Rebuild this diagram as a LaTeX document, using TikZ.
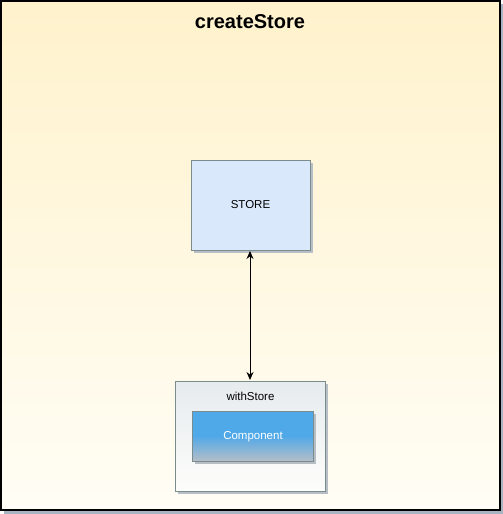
\documentclass[tikz,border=0pt]{standalone}
\usepackage{fontspec}
\setmainfont{Liberation Sans}
\usetikzlibrary{arrows.meta}
\definecolor{frameshadow}{HTML}{A9B4C2}
\definecolor{bgtop}{HTML}{FFF2CC}
\definecolor{bgbot}{HTML}{FFFDF5}
\definecolor{storefill}{HTML}{DAE8FC}
\definecolor{boxline}{HTML}{7B8C8C}
\definecolor{boxshadow}{HTML}{B8BEC6}
\definecolor{comptop}{HTML}{4FA8E8}
\definecolor{compbot}{HTML}{B4BEC8}
\definecolor{wtop}{HTML}{E6EBEE}
\definecolor{wbot}{HTML}{FDFDFB}
\tikzset{
  plainbox/.style={draw=boxline, line width=0.8pt, inner sep=0pt, outer sep=0pt},
  lbl/.style={font=\fontsize{11.5}{13}\selectfont, inner sep=0pt},
  link/.style={{Stealth[length=8pt,width=7pt]}-{Stealth[length=8pt,width=7pt]}, line width=1pt},
}
\begin{document}
\begin{tikzpicture}[x=1pt,y=-1pt]
\useasboundingbox (0,0) rectangle (503,514);
% outer frame shadow
\fill[frameshadow] (4,4) rectangle (503,514);
\shade[top color=bgtop, bottom color=bgbot] (1,1) rectangle (500,510);
\draw[black, line width=1.2pt] (1,1) rectangle (500,510);
\node[font=\bfseries\fontsize{20}{24}\selectfont, inner sep=0pt] (title) at (250,22) {createStore};
% STORE
\fill[boxshadow] (194,163) rectangle (313,253);
\draw[plainbox, fill=storefill] (191,160) rectangle (310,250);
\coordinate (storebot) at (250,251);
\node[lbl] (store) at (250.5,205) {STORE};
% withStore
\fill[boxshadow] (178,384) rectangle (328,494);
\shade[top color=wtop, bottom color=wbot] (175,381) rectangle (325,491);
\draw[plainbox] (175,381) rectangle (325,491);
\coordinate (wtopc) at (250,380);
\node[lbl] (with) at (250.5,396.5) {withStore};
% Component
\fill[boxshadow] (195,414) rectangle (316,464);
\fill[comptop] (192,411) rectangle (313,436);
\shade[top color=comptop, bottom color=compbot] (192,435.5) rectangle (313,461);
\draw[plainbox] (192,411) rectangle (313,461);
\node[lbl, text=white] (comp) at (253,436.5) {Component};
% arrow
\draw[link] (storebot) -- (wtopc);
\end{tikzpicture}
\end{document}
